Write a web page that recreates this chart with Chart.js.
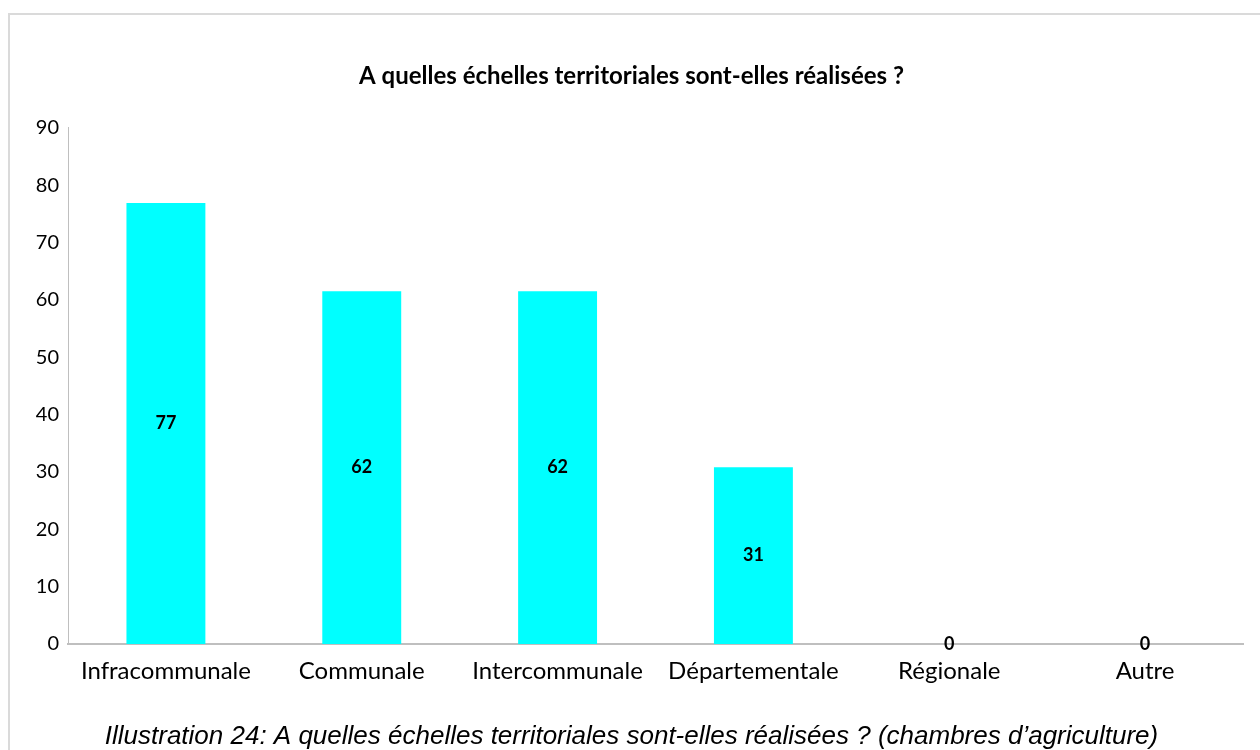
<!DOCTYPE html>
<html lang="fr">
<head>
<meta charset="utf-8">
<title>Échelles territoriales</title>
<script src="https://cdn.jsdelivr.net/npm/chart.js@4"></script>
<style>
  html,body{margin:0;padding:0;background:#fff;overflow:hidden;}
  #cadre{position:absolute;left:8px;top:13px;width:1270px;height:760px;border:2px solid #dadada;box-sizing:border-box;}
  #graph{position:absolute;left:0;top:0;}
</style>
</head>
<body>
<div id="cadre"></div>
<canvas id="graph" width="1260" height="750"></canvas>
<script>
/* ---------- Données ---------- */
const ECHELLES = ['Infracommunale','Communale','Intercommunale','Départementale','Régionale','Autre'];
const POURCENT = [76.9, 61.5, 61.5, 30.8, 0, 0];
const Y_MIN = 0, Y_MAX = 90, Y_PAS = 10;

const TITRE   = 'A quelles échelles territoriales sont-elles réalisées ?';
const LEGENDE = 'Illustration 24: A quelles échelles territoriales sont-elles réalisées ? (chambres d’agriculture)';

/* ---------- étiquettes au milieu des barres ---------- */
const etiquettes = {
  id:'etiquettes',
  afterDatasetsDraw(chart){
    const ctx = chart.ctx;
    const meta = chart.getDatasetMeta(0);
    ctx.save();
    ctx.font = 'bold 18px Lato';
    ctx.fillStyle = '#000';
    ctx.textAlign = 'center';
    ctx.textBaseline = 'middle';
    meta.data.forEach((bar,i)=>{
      const v = chart.data.datasets[0].data[i];
      ctx.fillText(Math.round(v), bar.x, (bar.y+bar.base)/2);
    });
    ctx.restore();
  }
};

new Chart(document.getElementById('graph'),{
  type:'bar',
  data:{
    labels:ECHELLES,
    datasets:[{data:POURCENT, backgroundColor:'#00ffff', borderWidth:0,
               categoryPercentage:1, barPercentage:0.403}]
  },
  options:{
    responsive:false, animation:false, devicePixelRatio:1,
    layout:{padding:{left:20,right:17,top:0,bottom:0}},
    plugins:{
      legend:{display:false},
      tooltip:{enabled:false},
      title:{display:true, text:TITRE, color:'#000',
             font:{family:'Lato',size:24,weight:'bold',lineHeight:1.2},
             padding:{top:62,bottom:37}},
      subtitle:{display:true, position:'bottom', text:LEGENDE, color:'#000',
             font:{family:'Liberation Sans',size:26,style:'italic',lineHeight:1},
             padding:{top:22,bottom:0}}
    },
    scales:{
      x:{
        grid:{display:false, drawTicks:false},
        border:{display:true, color:'#bfbfbf', width:2},
        ticks:{color:'#000', font:{family:'Lato',size:24}, padding:13, maxRotation:0},
        afterFit(s){ s.height = 58; }
      },
      y:{
        min:Y_MIN, max:Y_MAX,
        grid:{display:false, drawTicks:false},
        border:{display:true, color:'#bfbfbf', width:1},
        ticks:{stepSize:Y_PAS, color:'#000', font:{family:'Lato',size:20}, padding:9},
        afterFit(s){ s.width = 48; }
      }
    }
  },
  plugins:[etiquettes]
});
</script>
</body>
</html>
